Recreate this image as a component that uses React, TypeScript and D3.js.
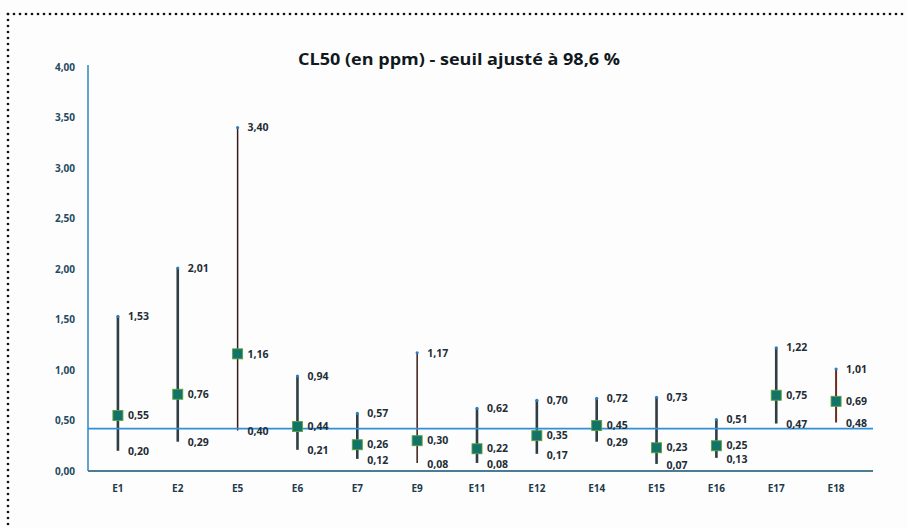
import React from "react";
import * as d3 from "d3";

const categories = ["E1", "E2", "E5", "E6", "E7", "E9", "E11", "E12", "E14", "E15", "E16", "E17", "E18"];
const cl50 = [0.55, 0.76, 1.16, 0.44, 0.26, 0.30, 0.22, 0.35, 0.45, 0.23, 0.25, 0.75, 0.69];
const upper = [1.53, 2.01, 3.40, 0.94, 0.57, 1.17, 0.62, 0.70, 0.72, 0.73, 0.51, 1.22, 1.01];
const lower = [0.20, 0.29, 0.40, 0.21, 0.12, 0.08, 0.08, 0.17, 0.29, 0.07, 0.13, 0.47, 0.48];
const lineStyle = ["thick", "thick", "thin", "thick", "thick", "thin", "thick", "thick", "thick", "thick", "thick", "thick", "red"];
const threshold = 0.42;
const yTicks = [0, 0.5, 1, 1.5, 2, 2.5, 3, 3.5, 4];
const title = "CL50 (en ppm) - seuil ajusté à 98,6 %";

const W = 907;
const H = 528;
const fmt = (v: number) => v.toFixed(2).replace(".", ",");

export default function App() {
  const x = d3.scaleBand<string>().domain(categories).range([88, 866]).padding(0);
  const y = d3.scaleLinear().domain([0, 4]).range([471, 67]);
  const cx = (c: string) => (x(c) as number) + x.bandwidth() / 2;

  const topDots = d3.range(8, W, 6);
  const leftDots = d3.range(14, H, 6);

  const font = "'Open Sans', 'DejaVu Sans', sans-serif";
  const labelColor = "#1e2d36";

  return (
    <svg width={W} height={H} style={{ position: "absolute", left: 0, top: 0, background: "#fefdfd" }} fontFamily={font}>
      {topDots.map((d) => (
        <circle key={"t" + d} cx={d} cy={14} r={1.35} fill="#111" />
      ))}
      {leftDots.map((d) => (
        <circle key={"l" + d} cx={8} cy={d} r={1.35} fill="#111" />
      ))}

      <text x={459} y={65} textAnchor="middle" fontSize={15.5} fontWeight={700} fill="#101820" textLength={322} lengthAdjust="spacingAndGlyphs">
        {title}
      </text>

      {yTicks.map((t) => (
        <text key={t} x={75} y={y(t)} dy="0.35em" textAnchor="end" fontSize={10} fontWeight={700} fill="#1d4a60">
          {fmt(t)}
        </text>
      ))}

      <line x1={88} x2={88} y1={65} y2={471} stroke="#2e86c1" strokeWidth={1.5} />
      <line x1={88} x2={873} y1={y(0)} y2={y(0)} stroke="#4a7d92" strokeWidth={2} />

      {categories.map((c) => (
        <text key={c} x={cx(c)} y={492} textAnchor="middle" fontSize={10} fontWeight={700} fill="#1d3a4a">
          {c}
        </text>
      ))}

      {categories.map((c, i) => {
        const st = lineStyle[i];
        const stroke = st === "thick" ? "#2f3d44" : st === "red" ? "#6e2a1e" : "#3a1c16";
        const sw = st === "thick" ? 2.6 : st === "red" ? 2 : 1.5;
        return (
          <g key={c}>
            <line x1={cx(c)} x2={cx(c)} y1={y(upper[i])} y2={y(lower[i])} stroke={stroke} strokeWidth={sw} />
            <circle cx={cx(c)} cy={y(upper[i])} r={1.6} fill="#2a7fc0" />
          </g>
        );
      })}

      <line x1={88} x2={873} y1={y(threshold)} y2={y(threshold)} stroke="#2f8fd8" strokeWidth={1.6} />

      {categories.map((c, i) => (
        <rect key={c} x={cx(c) - 5} y={y(cl50[i]) - 5} width={10} height={10} fill="#13736a" stroke="#5aa33a" strokeWidth={0.9} />
      ))}

      {categories.map((c, i) => (
        <g key={c} fontSize={10.5} fontWeight={700} fill={labelColor}>
          <text x={cx(c) + 10} y={y(upper[i])} dy="0.35em">{fmt(upper[i])}</text>
          <text x={cx(c) + 10} y={y(cl50[i])} dy="0.35em">{fmt(cl50[i])}</text>
          <text x={cx(c) + 10} y={y(lower[i]) + 1} dy="0.35em">{fmt(lower[i])}</text>
        </g>
      ))}
    </svg>
  );
}
